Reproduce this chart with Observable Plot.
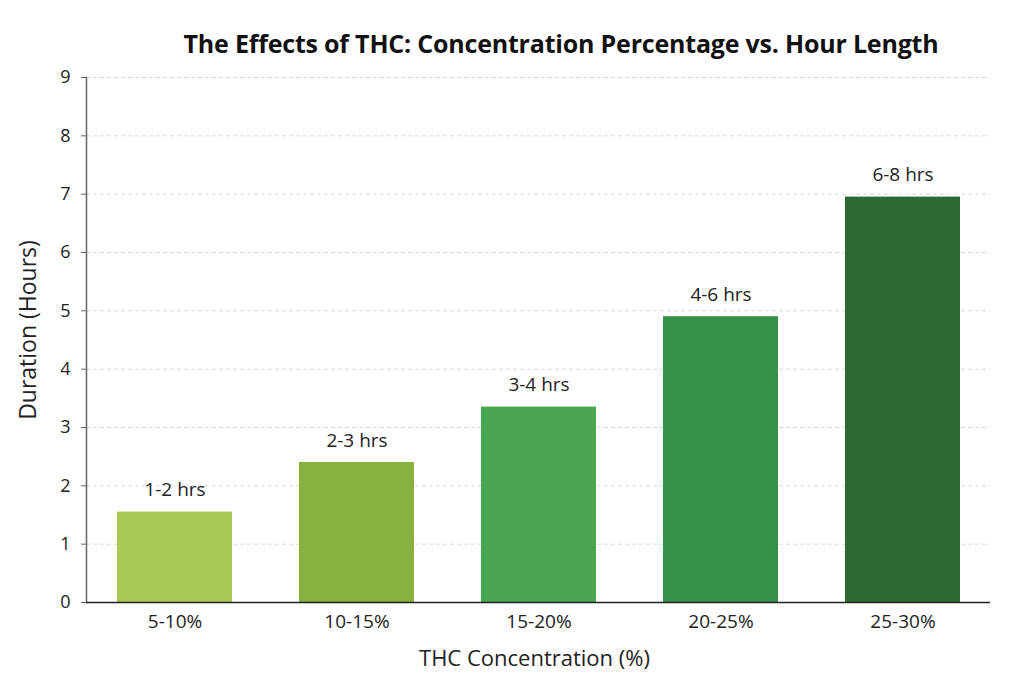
<!DOCTYPE html>
<html>
<head>
<meta charset="utf-8">
<script src="https://cdn.jsdelivr.net/npm/d3@7"></script>
<script src="https://cdn.jsdelivr.net/npm/@observablehq/plot@0.6"></script>
<style>
  html, body { margin: 0; padding: 0; background: #ffffff; }
  body { width: 1024px; height: 683px; overflow: hidden; font-family: "Open Sans", sans-serif; }
  #title { height: 55px; box-sizing: border-box; padding-top: 29px; padding-left: 98px; text-align: center;
           font-size: 25px; font-weight: 700; color: #111; line-height: 28px; white-space: nowrap; letter-spacing: -0.2px; }
  #chart svg { display: block; }
</style>
</head>
<body>
<div id="title">The Effects of THC: Concentration Percentage vs. Hour Length</div>
<div id="chart"></div>
<script>
const categories = ["5-10%", "10-15%", "15-20%", "20-25%", "25-30%"];
const durations = [1.55, 2.4, 3.35, 4.9, 6.95];
const barLabels = ["1-2 hrs", "2-3 hrs", "3-4 hrs", "4-6 hrs", "6-8 hrs"];
const barColors = ["#a9c957", "#88b13f", "#4aa64f", "#33914a", "#2a6a32"];
const yTicks = [0, 1, 2, 3, 4, 5, 6, 7, 8, 9];
const gridTicks = [1, 2, 3, 4, 5, 6, 7, 8, 9];

const data = categories.map((c, i) => ({cat: c, value: durations[i], label: barLabels[i], color: barColors[i]}));

const chart = Plot.plot({
  width: 1024,
  height: 628,
  marginLeft: 86,
  marginRight: 34,
  marginTop: 22,
  marginBottom: 81,
  style: {fontFamily: "Open Sans, sans-serif", color: "#222", background: "#fff"},
  x: {domain: categories, paddingInner: 0.37, paddingOuter: 0.16, label: null},
  y: {domain: [0, 9], label: null},
  marks: [
    Plot.ruleY(gridTicks, {stroke: "#d8d8d8", strokeDasharray: "4,3", strokeWidth: 1}),
    Plot.barY(data, {x: "cat", y: "value", fill: "color"}),
    Plot.text(data, {x: "cat", y: "value", text: "label", dy: -22, fontSize: 19, fill: "#222"}),
    Plot.axisY({ticks: yTicks, tickSize: 5, tickPadding: 11, fontSize: 18, stroke: "#666", label: null}),
    Plot.axisX({tickSize: 0, tickPadding: 12, fontSize: 19, label: null}),
    Plot.frame({anchor: "left", stroke: "#666", strokeWidth: 1.5}),
    Plot.ruleY([0], {stroke: "#222", strokeWidth: 1.5}),
    Plot.text(["Duration (Hours)"], {frameAnchor: "left", textAnchor: "middle", lineAnchor: "middle", dx: -58, dy: -10, rotate: -90, fontSize: 23, fill: "#222"}),
    Plot.text(["THC Concentration (%)"], {frameAnchor: "bottom", textAnchor: "middle", lineAnchor: "middle", dx: -4, dy: 56, fontSize: 22, fill: "#222"})
  ]
});
document.getElementById("chart").appendChild(chart);
</script>
</body>
</html>
